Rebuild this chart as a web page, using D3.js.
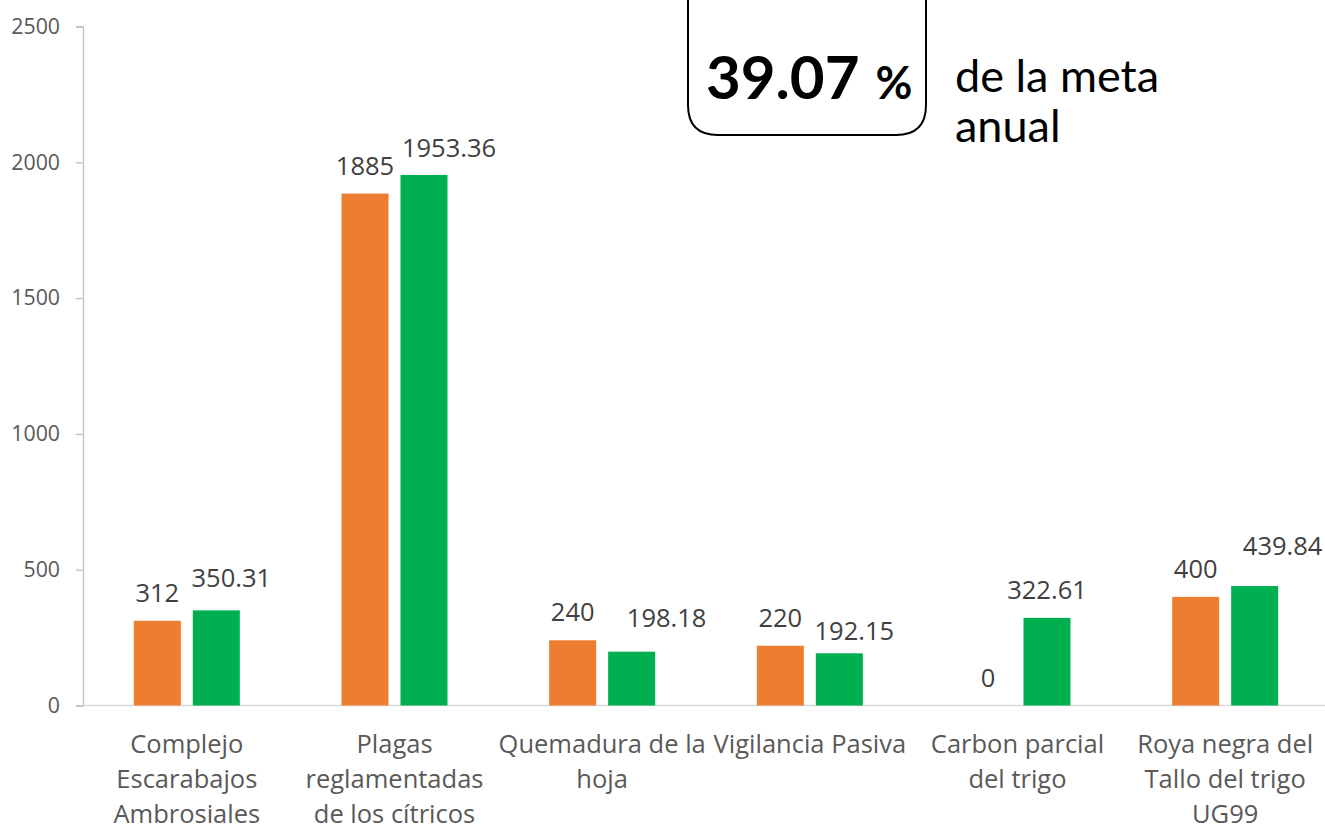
<!DOCTYPE html>
<html><head><meta charset="utf-8">
<script src="https://cdn.jsdelivr.net/npm/d3@7"></script>
<style>body{margin:0;background:#fff}svg{display:block}</style>
</head><body>
<svg id="c" width="1325" height="828"></svg>
<script>
const categories = [
  ["Complejo","Escarabajos","Ambrosiales"],
  ["Plagas","reglamentadas","de los cítricos"],
  ["Quemadura de la","hoja"],
  ["Vigilancia Pasiva"],
  ["Carbon parcial","del trigo"],
  ["Roya negra del","Tallo del trigo","UG99"]
];
const seriesNames = ["Meta","Avance"];
const metaValues = [312, 1885, 240, 220, 0, 400];
const avanceValues = [350.31, 1953.36, 198.18, 192.15, 322.61, 439.84];
const metaLabels = ["312","1885","240","220","0","400"];
const avanceLabels = ["350.31","1953.36","198.18","192.15","322.61","439.84"];
const yTicks = [0, 500, 1000, 1500, 2000, 2500];
const percentText = "39.07";
const noteLines = ["de la meta","anual"];

// label nudges (layout only) for the second series, as placed in the original
const avanceNudge = [[15,-4],[25,1],[35,-6],[15,6],[0,0],[28,-12]];

const colors = {Meta:"#ED7D31", Avance:"#00B050"};
const svg = d3.select("#c");
const mLeft = 83, mRight = 1329, mTop = 26.5, mBottom = 705.5;
const y = d3.scaleLinear().domain([0,2500]).range([mBottom, mTop]);
const x0 = d3.scaleBand().domain(d3.range(categories.length)).range([mLeft, mRight]).padding(0);
const bw = x0.bandwidth();
const x1 = d3.scaleBand().domain(seriesNames).range([bw/2-53, bw/2+53]).paddingInner(0.203);

// y axis
const yAxis = d3.axisLeft(y).tickValues(yTicks).tickSize(7).tickPadding(16).tickFormat(d3.format("d"));
const gy = svg.append("g").attr("transform",`translate(${mLeft},0)`).call(yAxis);
gy.select(".domain").attr("stroke","#bfbfbf").attr("stroke-width",1.3);
gy.selectAll(".tick line").attr("stroke","#bfbfbf").attr("stroke-width",1.3);
gy.selectAll(".tick text").attr("fill","#595959").style("font-family","'Open Sans'").style("font-size","21.3px");

// baseline
svg.append("line").attr("x1",mLeft).attr("x2",1325).attr("y1",y(0)).attr("y2",y(0))
  .attr("stroke","#d9d9d9").attr("stroke-width",1.5);

const data = categories.map((c,i)=>({i, Meta:metaValues[i], Avance:avanceValues[i]}));
const g = svg.append("g");
data.forEach(d=>{
  seriesNames.forEach(s=>{
    g.append("rect")
      .attr("x", x0(d.i)+x1(s)).attr("width", x1.bandwidth())
      .attr("y", y(d[s])).attr("height", y(0)-y(d[s]))
      .attr("fill", colors[s]);
  });
});

// value labels
const lab = svg.append("g").style("font-family","'Open Sans'").style("font-size","25.5px").attr("fill","#404040").attr("text-anchor","middle");
data.forEach(d=>{
  lab.append("text").attr("x", x0(d.i)+x1("Meta")+x1.bandwidth()/2).attr("y", y(d.Meta)-19).text(metaLabels[d.i]);
  const n = avanceNudge[d.i];
  lab.append("text").attr("x", x0(d.i)+x1("Avance")+x1.bandwidth()/2+n[0]).attr("y", y(d.Avance)-19+n[1]).text(avanceLabels[d.i]);
});

// category labels
const cl = svg.append("g").style("font-family","'Open Sans'").style("font-size","25.5px").attr("fill","#595959").attr("text-anchor","middle");
categories.forEach((lines,i)=>{
  const t = cl.append("text").attr("x", x0(i)+bw/2).attr("y", 753);
  lines.forEach((l,k)=>t.append("tspan").attr("x", x0(i)+bw/2).attr("y", 753+k*35).text(l));
});

// annotation box
svg.append("path")
  .attr("d", "M688,-10 L688,105 Q688,135 718,135 L896,135 Q926,135 926,105 L926,-10")
  .attr("fill","none").attr("stroke","#000").attr("stroke-width",2);
const pt = svg.append("text").attr("x",706).attr("y",99).style("font-family","Lato").style("font-weight","bold").attr("fill","#000");
pt.append("tspan").style("font-size","60px").text(percentText);
pt.append("tspan").style("font-size","45px").attr("dx",16).text("%");
const nt = svg.append("text").style("font-family","Lato").style("font-size","45px").attr("fill","#000");
noteLines.forEach((l,k)=>nt.append("tspan").attr("x",955).attr("y",92+k*50).text(l));
</script>
</body></html>
